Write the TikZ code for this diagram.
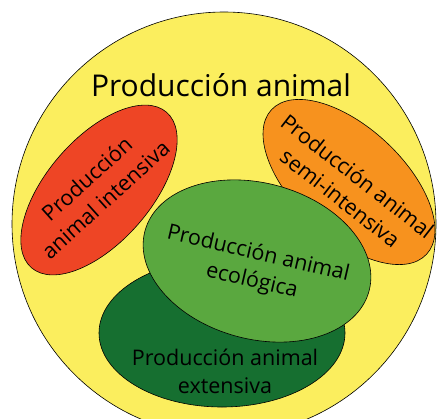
\documentclass[tikz,border=0pt]{standalone}
\usepackage{fontspec}
\setmainfont{Open Sans}
\usetikzlibrary{shapes.geometric}
\definecolor{amarillo}{HTML}{FBEE5E}
\definecolor{rojo}{HTML}{EE4525}
\definecolor{naranja}{HTML}{F7921E}
\definecolor{verdeclaro}{HTML}{5AA83F}
\definecolor{verdeoscuro}{HTML}{166F30}
\begin{document}
\begin{tikzpicture}[x=1pt, y=1pt, line width=0.6pt,
    zona/.style={ellipse, draw, inner sep=0pt},
    etiqueta/.style={align=center, font=\fontsize{21.5}{28}\selectfont}]
  \useasboundingbox (0,0) rectangle (438,418);
  \node[circle, draw, fill=amarillo, minimum size=424pt, inner sep=0pt] (animal) at (224,194) {};
  \node[font=\fontsize{30}{36}\selectfont] (titulo) at (221,333) {Producción animal};
  % zonas
  \node[zona, fill=rojo, minimum width=206pt, minimum height=104pt, rotate=49] (intensiva) at (99,228) {};
  \node[zona, fill=naranja, minimum width=212pt, minimum height=109pt, rotate=-43] (semi) at (349,236) {};
  \node[zona, fill=verdeoscuro, minimum width=246pt, minimum height=148pt] (extensiva) at (222,85) {};
  \node[zona, fill=verdeclaro, minimum width=232pt, minimum height=156pt, rotate=-15] (ecologica) at (257,157) {};
  % textos
  \node[etiqueta, rotate=42] (t-intensiva) at (96,229) {Producción\\animal intensiva};
  \node[etiqueta, rotate=-38] (t-semi) at (349,231) {Producción animal\\semi-intensiva};
  \node[etiqueta, rotate=-13] (t-ecologica) at (255,150) {Producción animal\\ecológica};
  \node[etiqueta] (t-extensiva) at (225,47) {Producción animal\\extensiva};
\end{tikzpicture}
\end{document}
